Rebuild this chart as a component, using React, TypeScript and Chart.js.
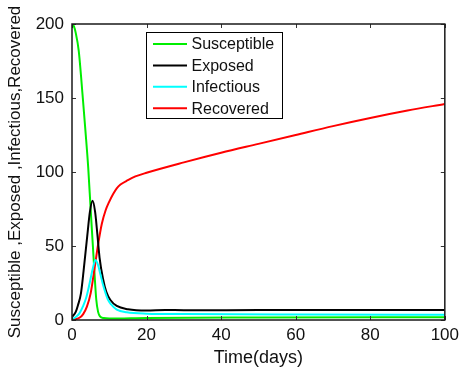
import React, { useEffect, useRef } from "react";
import { Chart, registerables } from "chart.js";

Chart.register(...registerables);

// Time axis sample points per series (days) and values
const susceptibleT = [0, 0.5, 1, 1.8, 2.9, 3.6, 4.35, 5, 5.6, 6, 6.5, 7, 7.5, 8.5, 10, 20, 50, 100];
const susceptibleV = [200, 198.5, 194, 182, 150, 128, 103, 75, 50, 33, 14, 5.5, 2.5, 1.3, 1, 1.4, 1.7, 1.9];

const exposedT = [0, 1, 1.6, 2.4, 3.1, 4.1, 4.8, 5.5, 6.2, 6.8, 7.4, 8.3, 9.2, 10.3, 12, 15, 20, 25, 30, 50, 100];
const exposedV = [2, 5.5, 10, 18, 33, 57, 73, 80.5, 73, 58, 42, 28, 19, 13.5, 9.5, 7.3, 6.4, 6.8, 6.6, 6.7, 6.8];

const infectiousT = [0, 1, 2, 2.9, 3.8, 4.7, 5.5, 6.3, 7, 7.7, 8.3, 9.6, 10.5, 12, 14.7, 20, 30, 60, 100];
const infectiousV = [0.5, 2, 4.5, 9, 15, 24.5, 34, 40.5, 37, 30, 24, 14, 10.5, 7, 5.2, 4.3, 4, 3.7, 3.5];

const recoveredT = [0, 2, 3, 4, 5, 6, 7, 8, 9, 10, 11, 12, 13, 15, 17, 20, 30, 40, 50, 60, 70, 80, 90, 100];
const recoveredV = [0, 1.5, 4, 9, 18, 34, 51, 65, 74, 80, 85, 89, 91.5, 94.5, 97, 99.5, 106.5, 113, 119, 125, 131, 136.5, 141.5, 146];

const seriesNames = ["Susceptible", "Exposed", "Infectious", "Recovered"];
const seriesColors = ["#00ee00", "#000000", "#00ffff", "#ff0000"];

const xTicks = [0, 20, 40, 60, 80, 100];
const yTicks = [0, 50, 100, 150, 200];

const FONT = "'Liberation Sans', Arial, sans-serif";

const pts = (t: number[], v: number[]) => t.map((x, i) => ({ x, y: v[i] }));

const framePlugin = {
  id: "frame",
  afterDatasetsDraw(chart: any) {
    const { ctx, chartArea, scales } = chart;
    const { left, right, top, bottom } = chartArea;
    const xs = scales.x;
    const ys = scales.y;
    ctx.save();
    // inward ticks
    ctx.strokeStyle = "#333";
    ctx.lineWidth = 1;
    const L = 4;
    ctx.beginPath();
    xTicks.forEach((v) => {
      const px = Math.round(xs.getPixelForValue(v)) + 0.5;
      ctx.moveTo(px, bottom);
      ctx.lineTo(px, bottom - L);
      ctx.moveTo(px, top);
      ctx.lineTo(px, top + L);
    });
    yTicks.forEach((v) => {
      const py = Math.round(ys.getPixelForValue(v)) + 0.5;
      ctx.moveTo(left, py);
      ctx.lineTo(left + L, py);
      ctx.moveTo(right, py);
      ctx.lineTo(right - L, py);
    });
    ctx.stroke();
    // box
    ctx.strokeStyle = "#1a1a1a";
    ctx.lineWidth = 1.5;
    ctx.strokeRect(left, top, right - left, bottom - top);

    // legend
    const bx = 146.5, by = 32.5, bw = 136, bh = 86;
    ctx.fillStyle = "#ffffff";
    ctx.fillRect(bx, by, bw, bh);
    ctx.strokeStyle = "#000";
    ctx.lineWidth = 1;
    ctx.strokeRect(bx, by, bw, bh);
    ctx.font = `16px ${FONT}`;
    ctx.textBaseline = "middle";
    ctx.textAlign = "left";
    seriesNames.forEach((name, i) => {
      const cy = 44 + i * 21.4;
      ctx.strokeStyle = seriesColors[i];
      ctx.lineWidth = 2;
      ctx.beginPath();
      ctx.moveTo(153, cy);
      ctx.lineTo(187, cy);
      ctx.stroke();
      ctx.fillStyle = "#111";
      ctx.fillText(name, 191.5, cy + 1);
    });
    ctx.restore();
  },
};

export default function App() {
  const ref = useRef<HTMLCanvasElement | null>(null);
  useEffect(() => {
    if (!ref.current) return;
    const datasets = [
      pts(susceptibleT, susceptibleV),
      pts(exposedT, exposedV),
      pts(infectiousT, infectiousV),
      pts(recoveredT, recoveredV),
    ].map((data, i) => ({
      label: seriesNames[i],
      data,
      borderColor: seriesColors[i],
      backgroundColor: seriesColors[i],
      borderWidth: 2,
      pointRadius: 0,
      cubicInterpolationMode: "monotone" as const,
      fill: false,
    }));
    const ordered = [datasets[2], datasets[1], datasets[3], datasets[0]];
    const chart = new Chart(ref.current, {
      type: "line",
      data: { datasets: ordered },
      options: {
        animation: false,
        responsive: false,
        layout: { padding: { top: 24, right: 18, left: 0, bottom: 0 } },
        plugins: { legend: { display: false }, tooltip: { enabled: false } },
        scales: {
          x: {
            type: "linear",
            min: 0,
            max: 100,
            afterBuildTicks: (s: any) => {
              s.ticks = xTicks.map((value) => ({ value }));
            },
            afterFit: (s: any) => {
              s.height = 52;
            },
            grid: { display: false, drawTicks: false },
            border: { display: false },
            ticks: { padding: 5, color: "#111", font: { family: FONT, size: 17 } },
            title: {
              display: true,
              text: "Time(days)",
              color: "#111",
              font: { family: FONT, size: 18 },
              padding: { top: 0, bottom: 3 },
            },
          },
          y: {
            type: "linear",
            min: 0,
            max: 200,
            afterBuildTicks: (s: any) => {
              s.ticks = yTicks.map((value) => ({ value }));
            },
            afterFit: (s: any) => {
              s.width = 72;
            },
            grid: { display: false, drawTicks: false },
            border: { display: false },
            ticks: { padding: 8, color: "#111", font: { family: FONT, size: 17 } },
            title: {
              display: true,
              text: "Susceptible ,Exposed ,Infectious,Recovered",
              color: "#111",
              font: { family: FONT, size: 17 },
              padding: { top: 5, bottom: 0 },
            },
          },
        },
      },
      plugins: [framePlugin],
    });
    return () => chart.destroy();
  }, []);
  return (
    <div style={{ position: "absolute", left: 0, top: 0, width: 464, height: 372, background: "#fff" }}>
      <canvas ref={ref} width={464} height={372} />
    </div>
  );
}
